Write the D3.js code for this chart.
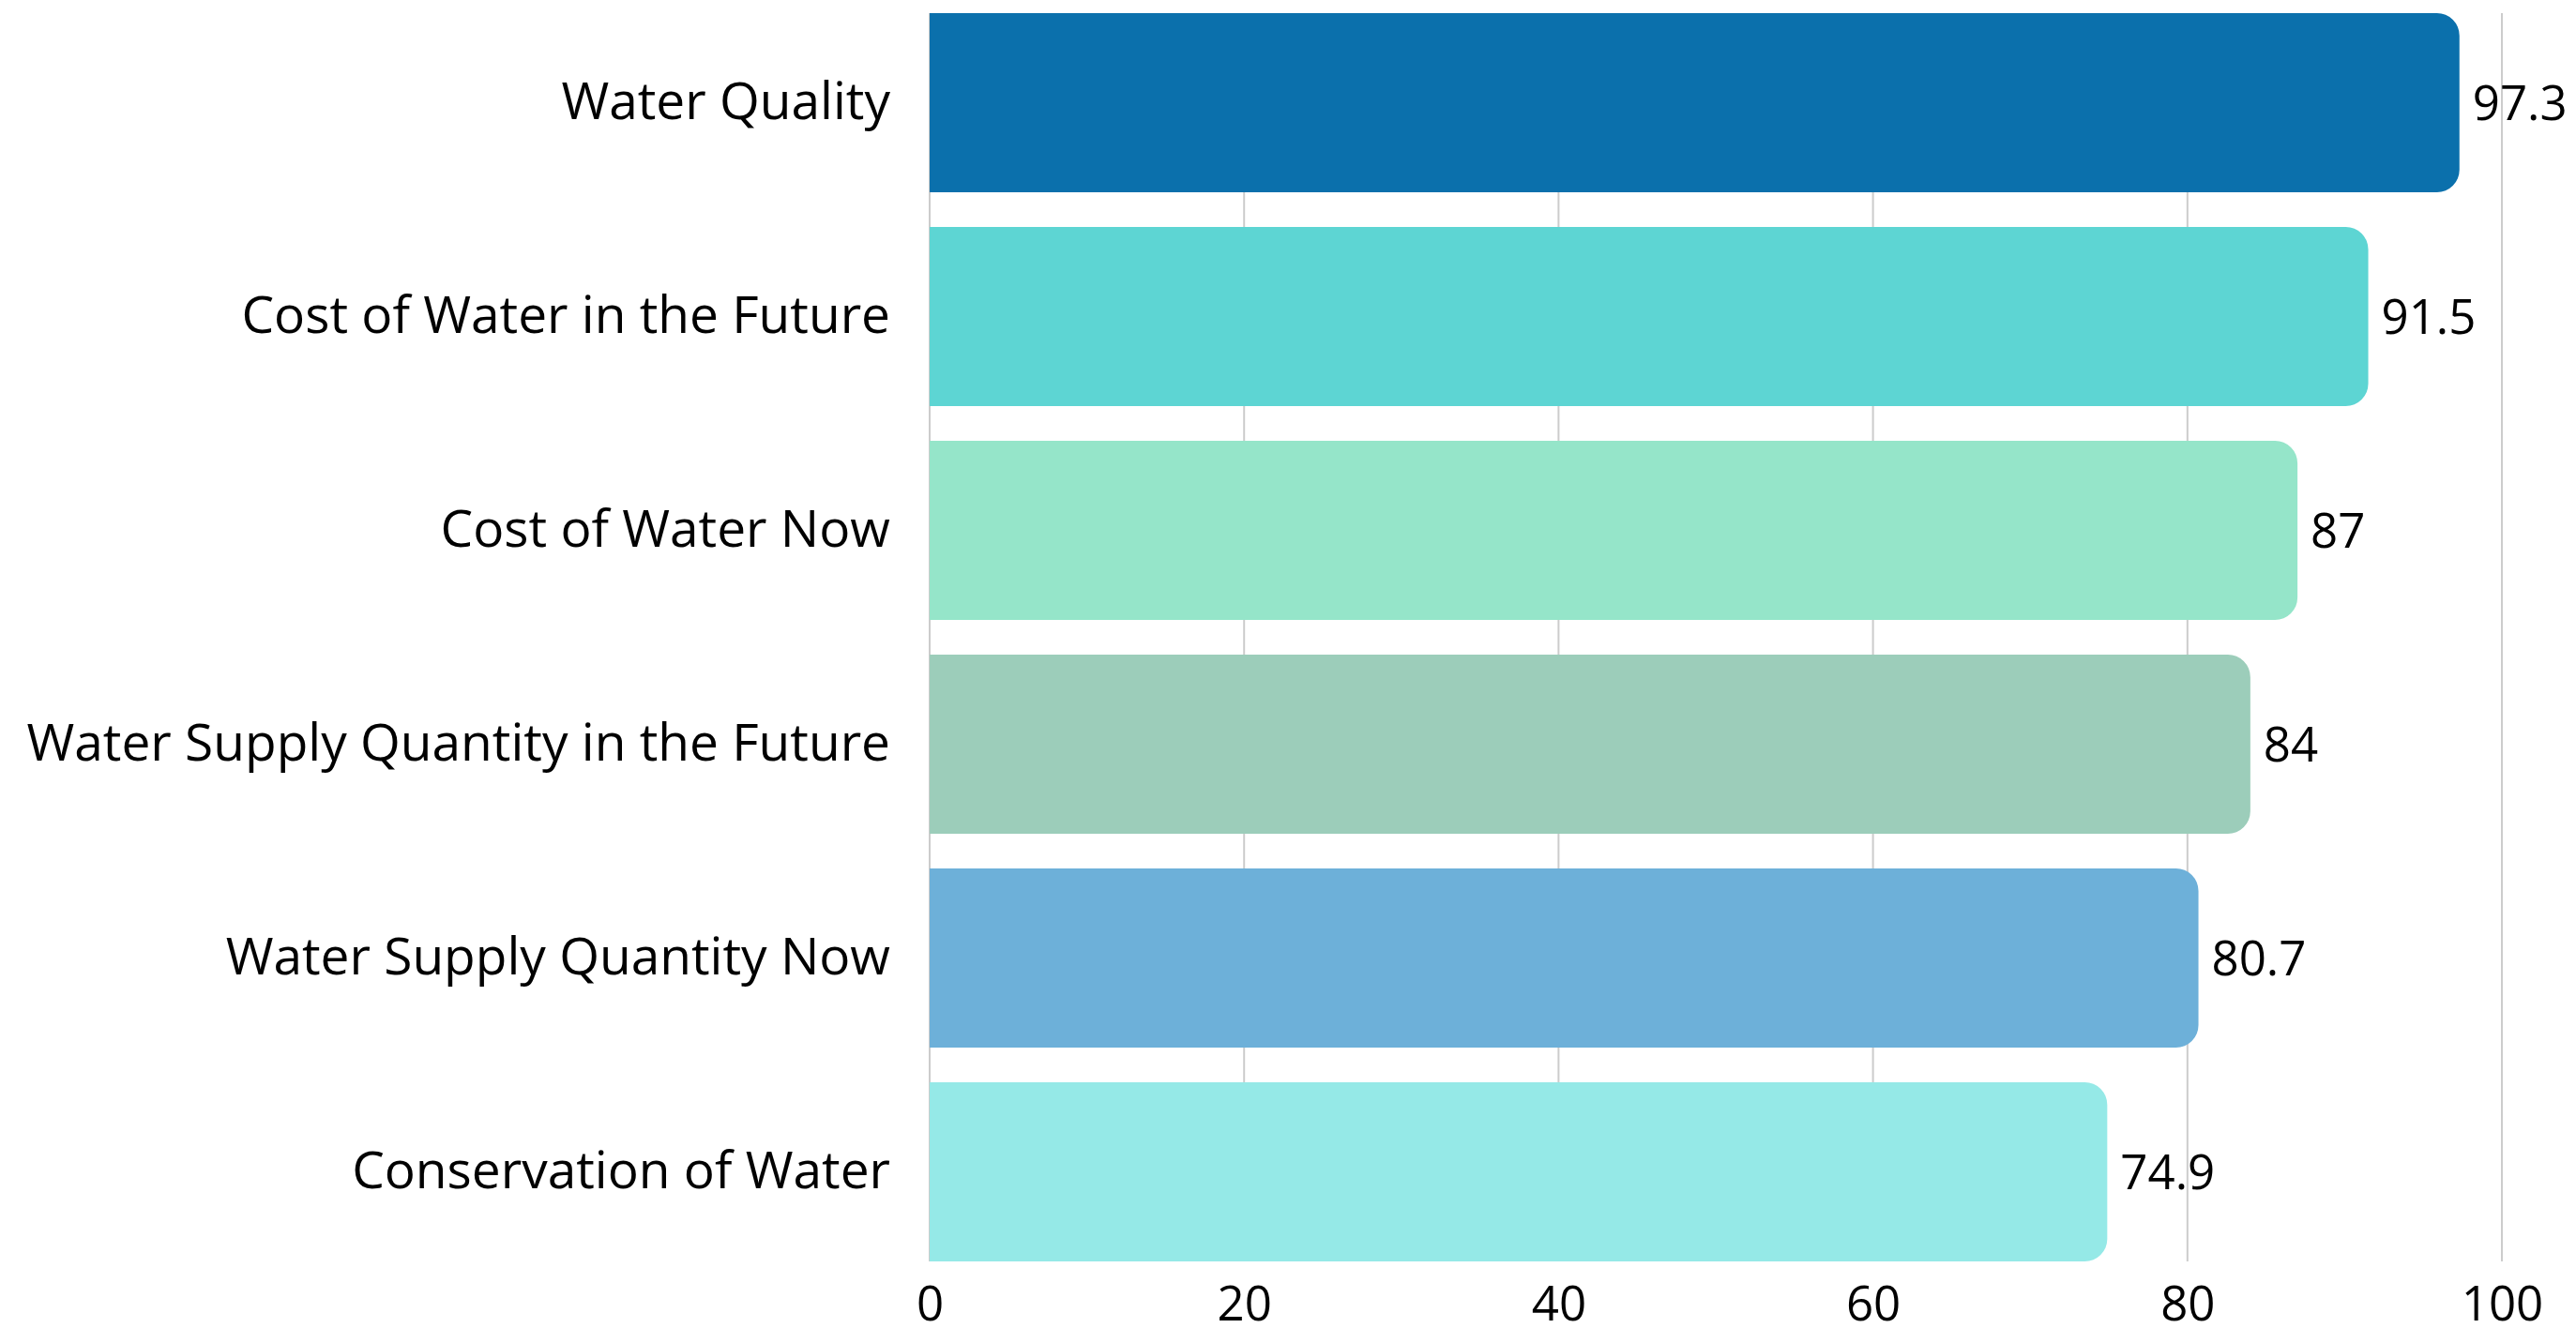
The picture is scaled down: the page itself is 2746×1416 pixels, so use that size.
<!DOCTYPE html>
<html>
<head>
<meta charset="utf-8">
<script src="https://cdn.jsdelivr.net/npm/d3@7"></script>
<style>
html,body{margin:0;padding:0;background:#fff;}
svg{display:block;}
</style>
</head>
<body>
<svg id="chart" width="2746" height="1416"></svg>
<script>
const categories = [
  "Water Quality",
  "Cost of Water in the Future",
  "Cost of Water Now",
  "Water Supply Quantity in the Future",
  "Water Supply Quantity Now",
  "Conservation of Water"
];
const values = [97.3, 91.5, 87, 84, 80.7, 74.9];
const barColors = ["#0b70ac", "#5dd5d3", "#95e5c9", "#9ccdba", "#6db0d9", "#95e9e7"];
const tickValues = [0, 20, 40, 60, 80, 100];

(function () {
const svg = d3.select("#chart");
const plotLeft = 991, plotRight = 2667, plotTop = 14, plotBottom = 1345;
const font = "'Open Sans', sans-serif";

const x = d3.scaleLinear().domain([0, 100]).range([plotLeft, plotRight]);
const y = d3.scaleBand().domain(categories).range([plotTop, plotBottom]).paddingInner(0.162).paddingOuter(0);

// gridlines
svg.append("g").selectAll("line").data(tickValues).join("line")
  .attr("x1", d => x(d)).attr("x2", d => x(d))
  .attr("y1", plotTop).attr("y2", plotBottom)
  .attr("stroke", "#cccccc").attr("stroke-width", 2);

// bars: square left, rounded right
const r = 24;
function barPath(d, i) {
  const x0 = x(0), x1 = x(values[i]), y0 = y(d), h = y.bandwidth();
  return `M${x0},${y0} H${x1 - r} A${r},${r} 0 0 1 ${x1},${y0 + r} V${y0 + h - r} A${r},${r} 0 0 1 ${x1 - r},${y0 + h} H${x0} Z`;
}
svg.append("g").selectAll("path").data(categories).join("path")
  .attr("d", barPath)
  .attr("fill", (d, i) => barColors[i]);

// value labels
svg.append("g").selectAll("text").data(categories).join("text")
  .attr("x", (d, i) => x(values[i]) + 14)
  .attr("y", d => y(d) + y.bandwidth() / 2)
  .attr("dy", "0.36em")
  .attr("font-family", font).attr("font-size", 51).attr("fill", "#000")
  .text((d, i) => values[i]);

// category axis labels
const yAxis = d3.axisLeft(y).tickSize(0).tickPadding(42);
const gy = svg.append("g").attr("transform", `translate(${plotLeft},0)`).call(yAxis);
gy.select(".domain").remove();
gy.selectAll("text").attr("font-family", font).attr("font-size", 55).attr("fill", "#000");

// x axis
const xAxis = d3.axisBottom(x).tickValues(tickValues).tickSize(0).tickPadding(27);
const gx = svg.append("g").attr("transform", `translate(0,${plotBottom})`).call(xAxis);
gx.select(".domain").remove();
gx.selectAll("text").attr("font-family", font).attr("font-size", 51).attr("fill", "#000");
})();
</script>
</body>
</html>
